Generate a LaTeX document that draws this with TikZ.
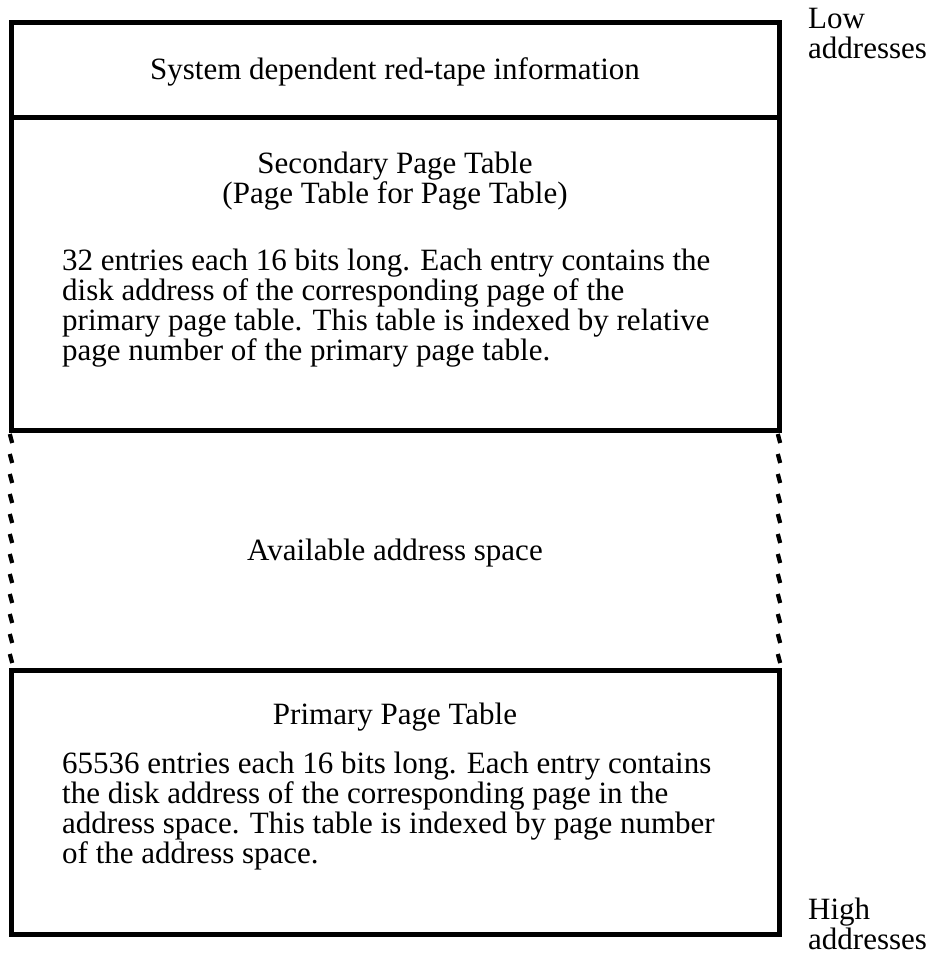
\documentclass[tikz,border=0pt]{standalone}
\usepackage{fontspec}
\setmainfont{Liberation Serif}
\begin{document}
\begin{tikzpicture}[x=1pt,y=-1pt,
  wall/.style={line width=5pt},
  txt/.style={inner sep=0pt, font=\fontsize{31}{30}\selectfont, anchor=base west},
  ctxt/.style={txt, anchor=base},
  jag/.style={line width=4.2pt}]
\useasboundingbox (0,0) rectangle (932,954);
% boxes
\draw[wall] (11,22.5) rectangle (779,430.5);
\draw[wall] (11,117.5) -- (779,117.5);
\draw[wall] (11,670.5) rectangle (779,934.5);
% jagged dashed sides of the available space
\foreach \k in {0,...,11} {
  \draw[jag] (9.8,{434+20*\k}) -- (12.2,{443+20*\k});
  \draw[jag] (777.8,{434+20*\k}) -- (780.2,{443+20*\k});
}
% texts
\node[ctxt] (sys) at (395,79) {System dependent red-tape information};
\node[ctxt] (sec1) at (395,173) {Secondary Page Table};
\node[ctxt] (sec2) at (395,203) {(Page Table for Page Table)};
\node[txt] (s1) at (62,270) {32 entries each 16 bits long. Each entry contains the};
\node[txt] (s2) at (62,300) {disk address of the corresponding page of the};
\node[txt] (s3) at (62,330) {primary page table. This table is indexed by relative};
\node[txt] (s4) at (62,360) {page number of the primary page table.};
\node[ctxt] (avail) at (395,560) {Available address space};
\node[ctxt] (prim) at (395,724) {Primary Page Table};
\node[txt] (p1) at (62,773) {65536 entries each 16 bits long. Each entry contains};
\node[txt] (p2) at (62,803) {the disk address of the corresponding page in the};
\node[txt] (p3) at (62,833) {address space. This table is indexed by page number};
\node[txt] (p4) at (62,863) {of the address space.};
\node[txt] (low1) at (808,28) {Low};
\node[txt] (low2) at (808,58) {addresses};
\node[txt] (high1) at (808,919) {High};
\node[txt] (high2) at (808,949) {addresses};
\end{tikzpicture}
\end{document}
